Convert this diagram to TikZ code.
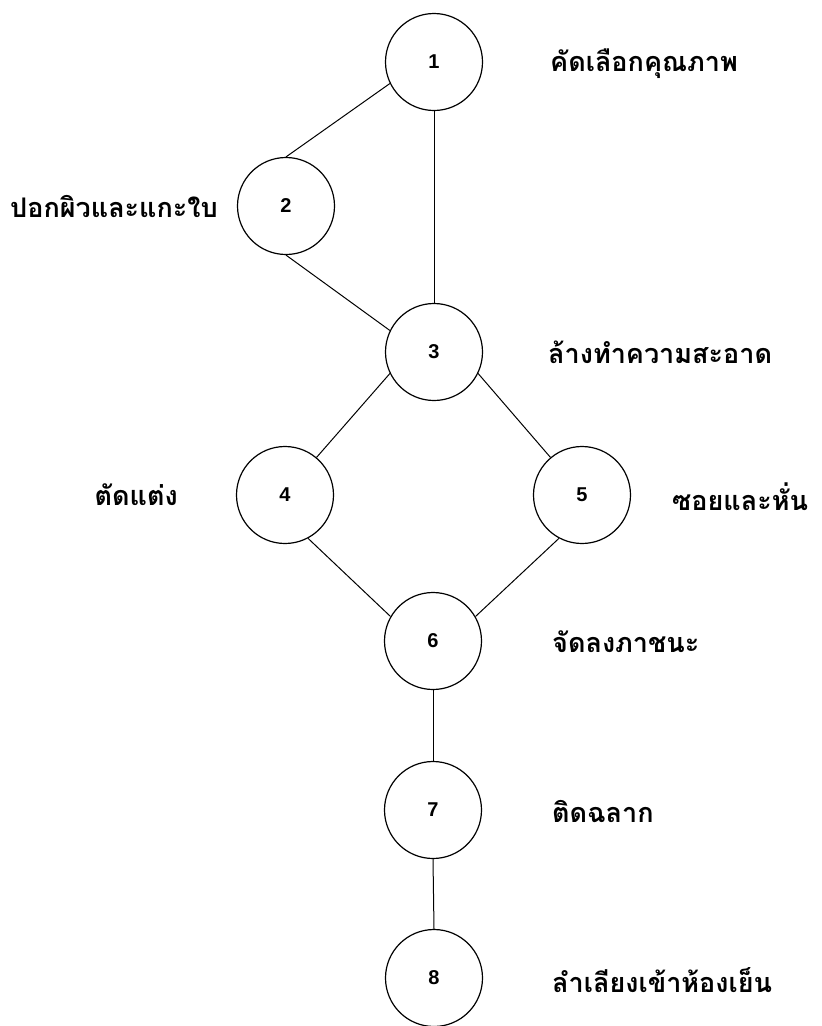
\documentclass[tikz,border=0pt]{standalone}
\usepackage{fontspec}
\setmainfont{Liberation Sans}
\newfontfamily\thaifont[Script=Thai]{Loma}
\begin{document}
\begin{tikzpicture}[x=1pt,y=1pt,
  stepnode/.style={circle,draw,line width=1.2pt,minimum size=97pt,inner sep=0pt,
    font=\bfseries\fontsize{20}{20}\selectfont},
  thlabel/.style={inner sep=0pt,font=\thaifont\bfseries\fontsize{27}{27}\selectfont},
  link/.style={line width=1pt}]
\useasboundingbox (0,0) rectangle (822,-1026);
\node[stepnode] (n1) at (434,-62) {1};
\node[stepnode] (n2) at (286,-206) {2};
\node[stepnode] (n3) at (434,-352) {3};
\node[stepnode] (n4) at (285,-495) {4};
\node[stepnode] (n5) at (582,-495) {5};
\node[stepnode] (n6) at (433,-641) {6};
\node[stepnode] (n7) at (433,-810) {7};
\node[stepnode] (n8) at (434,-978) {8};

\node[thlabel,anchor=west] (l1) at (550,-64) {คัดเลือกคุณภาพ};
\node[thlabel,anchor=east] (l2) at (218,-206) {ปอกผิวและแกะใบ};
\node[thlabel,anchor=west] (l3) at (548,-352) {ล้างทำความสะอาด};
\node[thlabel,anchor=east] (l4) at (178,-495) {ตัดแต่ง};
\node[thlabel,anchor=west] (l5) at (672,-497) {ซอยและหั่น};
\node[thlabel,anchor=west] (l6) at (552,-642) {จัดลงภาชนะ};
\node[thlabel,anchor=west] (l7) at (552,-812) {ติดฉลาก};
\node[thlabel,anchor=west] (l8) at (552,-980) {ลำเลียงเข้าห้องเย็น};

\draw[link] (n2.north) -- (n1.206);
\draw[link] (n1.south) -- (n3.north);
\draw[link] (n2.south) -- (n3.154);
\draw[link] (n3.206) -- (n4.50);
\draw[link] (n3.334) -- (n5.130);
\draw[link] (n4.298) -- (n6.150);
\draw[link] (n5.242) -- (n6.30);
\draw[link] (n6.south) -- (n7.north);
\draw[link] (n7.south) -- (n8.north);
\end{tikzpicture}
\end{document}
